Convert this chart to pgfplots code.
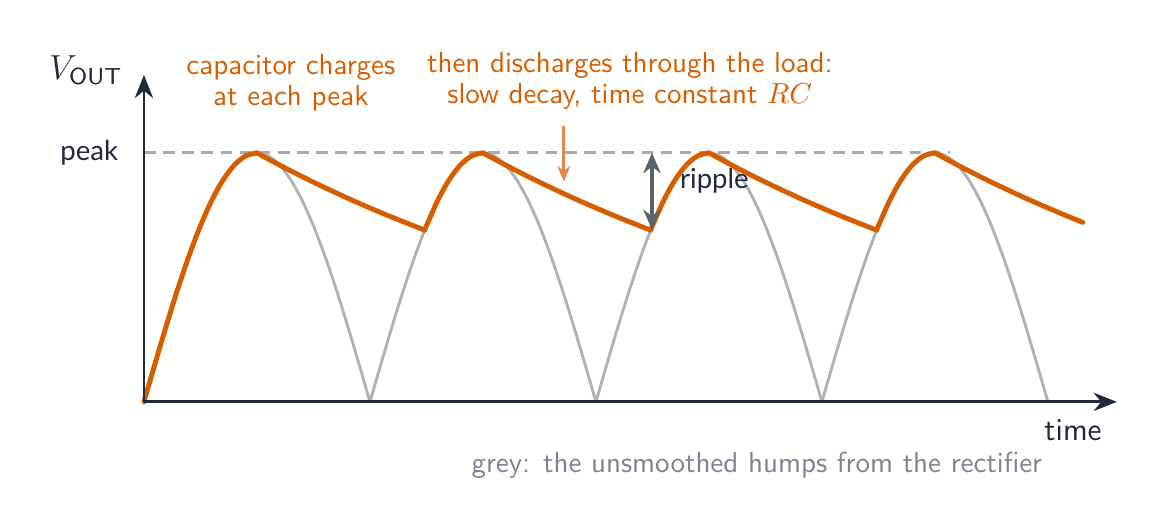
\documentclass[border=0pt]{standalone}
\usepackage{amsmath}
\usepackage{fontspec}
\usepackage{pgfplots}
\pgfplotsset{compat=1.18}
\usetikzlibrary{arrows.meta}
\newfontfamily\lato{Lato}
\definecolor{vorange}{HTML}{D55E00}
\definecolor{lorange}{HTML}{E3884A}
\definecolor{axiscol}{HTML}{1E293B}
\definecolor{humpgrey}{HTML}{B0B2B8}
\definecolor{dashgrey}{HTML}{A8AAB0}
\definecolor{arrgrey}{HTML}{5A626E}
\definecolor{footgrey}{HTML}{7C8490}
\begin{document}
\begin{tikzpicture}
\begin{axis}[
  x=77.93pt, y=85.86pt,
  xmin=0, xmax=4.305, ymin=0, ymax=1.313,
  hide axis, clip=false, scale only axis,
]
% grey unsmoothed humps
\addplot[humpgrey, line width=1pt, smooth] coordinates {(0,0)(0.05,.1564)(0.1,.3090)(0.15,.4540)(0.2,.5878)(0.25,.7071)(0.3,.8090)(0.35,.8910)(0.4,.9511)(0.45,.9877)(0.5,1)(0.55,.9877)(0.6,.9511)(0.65,.8910)(0.7,.8090)(0.75,.7071)(0.8,.5878)(0.85,.4540)(0.9,.3090)(0.95,.1564)(1,0)};
\addplot[humpgrey, line width=1pt, smooth] coordinates {(1,0)(1.05,.1564)(1.1,.3090)(1.15,.4540)(1.2,.5878)(1.25,.7071)(1.3,.8090)(1.35,.8910)(1.4,.9511)(1.45,.9877)(1.5,1)(1.55,.9877)(1.6,.9511)(1.65,.8910)(1.7,.8090)(1.75,.7071)(1.8,.5878)(1.85,.4540)(1.9,.3090)(1.95,.1564)(2,0)};
\addplot[humpgrey, line width=1pt, smooth] coordinates {(2,0)(2.05,.1564)(2.1,.3090)(2.15,.4540)(2.2,.5878)(2.25,.7071)(2.3,.8090)(2.35,.8910)(2.4,.9511)(2.45,.9877)(2.5,1)(2.55,.9877)(2.6,.9511)(2.65,.8910)(2.7,.8090)(2.75,.7071)(2.8,.5878)(2.85,.4540)(2.9,.3090)(2.95,.1564)(3,0)};
\addplot[humpgrey, line width=1pt, smooth] coordinates {(3,0)(3.05,.1564)(3.1,.3090)(3.15,.4540)(3.2,.5878)(3.25,.7071)(3.3,.8090)(3.35,.8910)(3.4,.9511)(3.45,.9877)(3.5,1)(3.55,.9877)(3.6,.9511)(3.65,.8910)(3.7,.8090)(3.75,.7071)(3.8,.5878)(3.85,.4540)(3.9,.3090)(3.95,.1564)(4,0)};
% peak level
\addplot[dashgrey, line width=1pt, dash pattern=on 4pt off 2.6pt] coordinates {(0,1)(3.566,1)};
% smoothed output
\addplot[vorange, line width=1.7pt, smooth, line cap=round] coordinates {(0,0)(0.05,.1564)(0.1,.3090)(0.15,.4540)(0.2,.5878)(0.25,.7071)(0.3,.8090)(0.35,.8910)(0.4,.9511)(0.45,.9877)(0.5,1)};
\addplot[vorange, line width=1.7pt, smooth, line cap=round] coordinates {(0.5,1)(0.6,.9512)(0.7,.9048)(0.8,.8607)(0.9,.8187)(1.0,.7788)(1.1,.7408)(1.2,.7047)(1.2422,.6899)};
\addplot[vorange, line width=1.7pt, smooth, line cap=round] coordinates {(1.2422,.6899)(1.25,.7071)(1.3,.8090)(1.35,.8910)(1.4,.9511)(1.45,.9877)(1.5,1)};
\addplot[vorange, line width=1.7pt, smooth, line cap=round] coordinates {(1.5,1)(1.6,.9512)(1.7,.9048)(1.8,.8607)(1.9,.8187)(2.0,.7788)(2.1,.7408)(2.2,.7047)(2.2422,.6899)};
\addplot[vorange, line width=1.7pt, smooth, line cap=round] coordinates {(2.2422,.6899)(2.25,.7071)(2.3,.8090)(2.35,.8910)(2.4,.9511)(2.45,.9877)(2.5,1)};
\addplot[vorange, line width=1.7pt, smooth, line cap=round] coordinates {(2.5,1)(2.6,.9512)(2.7,.9048)(2.8,.8607)(2.9,.8187)(3.0,.7788)(3.1,.7408)(3.2,.7047)(3.2422,.6899)};
\addplot[vorange, line width=1.7pt, smooth, line cap=round] coordinates {(3.2422,.6899)(3.25,.7071)(3.3,.8090)(3.35,.8910)(3.4,.9511)(3.45,.9877)(3.5,1)};
\addplot[vorange, line width=1.7pt, smooth, line cap=round] coordinates {(3.5,1)(3.6,.9512)(3.7,.9048)(3.8,.8607)(3.9,.8187)(4.0,.7788)(4.1,.7408)(4.155,.7207)};
% axes
\draw[axiscol, line width=1pt, -{Stealth[length=8pt,width=6.3pt]}] (axis cs:0,0) -- (axis cs:4.305,0);
\draw[axiscol, line width=1pt, -{Stealth[length=8pt,width=6.3pt]}] (axis cs:0,0) -- (axis cs:0,1.313);
% ripple arrow
\draw[arrgrey, line width=1.1pt, {Stealth[length=7pt,width=6pt]}-{Stealth[length=7pt,width=6pt]}] (axis cs:2.248,1) -- (axis cs:2.248,0.691);
\node[anchor=west, text=axiscol, font=\lato\fontsize{9.5}{11}\selectfont, inner sep=0pt] at (axis cs:2.37,0.888) {ripple};
% annotation arrow
\draw[lorange, line width=1pt, -{Stealth[length=5.5pt,width=4.5pt]}] (axis cs:1.858,1.108) -- (axis cs:1.858,0.884);
% labels
\node[anchor=east, text=axiscol, font=\lato\fontsize{9.5}{11}\selectfont, inner sep=0pt] at (axis cs:-0.112,1) {peak};
\node[anchor=east, text=axiscol, font=\large, inner sep=0pt] at (axis cs:-0.092,1.33) {$V_{\textsf{OUT}}$};
\node[text=axiscol, font=\sffamily\fontsize{11}{13}\selectfont, inner sep=0pt] at (axis cs:4.111,-0.112) {time};
\node[text=footgrey, font=\sffamily\fontsize{10}{12}\selectfont, inner sep=0pt] at (axis cs:2.712,-0.253) {grey: the unsmoothed humps from the rectifier};
\node[text=vorange, align=center, font=\sffamily\fontsize{10}{10.7}\selectfont, inner sep=0pt] at (axis cs:0.650,1.281) {capacitor charges\\at each peak};
\node[text=vorange, align=center, font=\sffamily\fontsize{10}{10.7}\selectfont, inner sep=0pt] at (axis cs:2.150,1.289) {then discharges through the load:\\slow decay, time constant $RC$};
\coordinate (BL) at (axis cs:-0.637,-0.514);
\coordinate (TR) at (axis cs:4.496,1.614);
\end{axis}
\pgfresetboundingbox
\useasboundingbox (BL) rectangle (TR);
\end{tikzpicture}
\end{document}
